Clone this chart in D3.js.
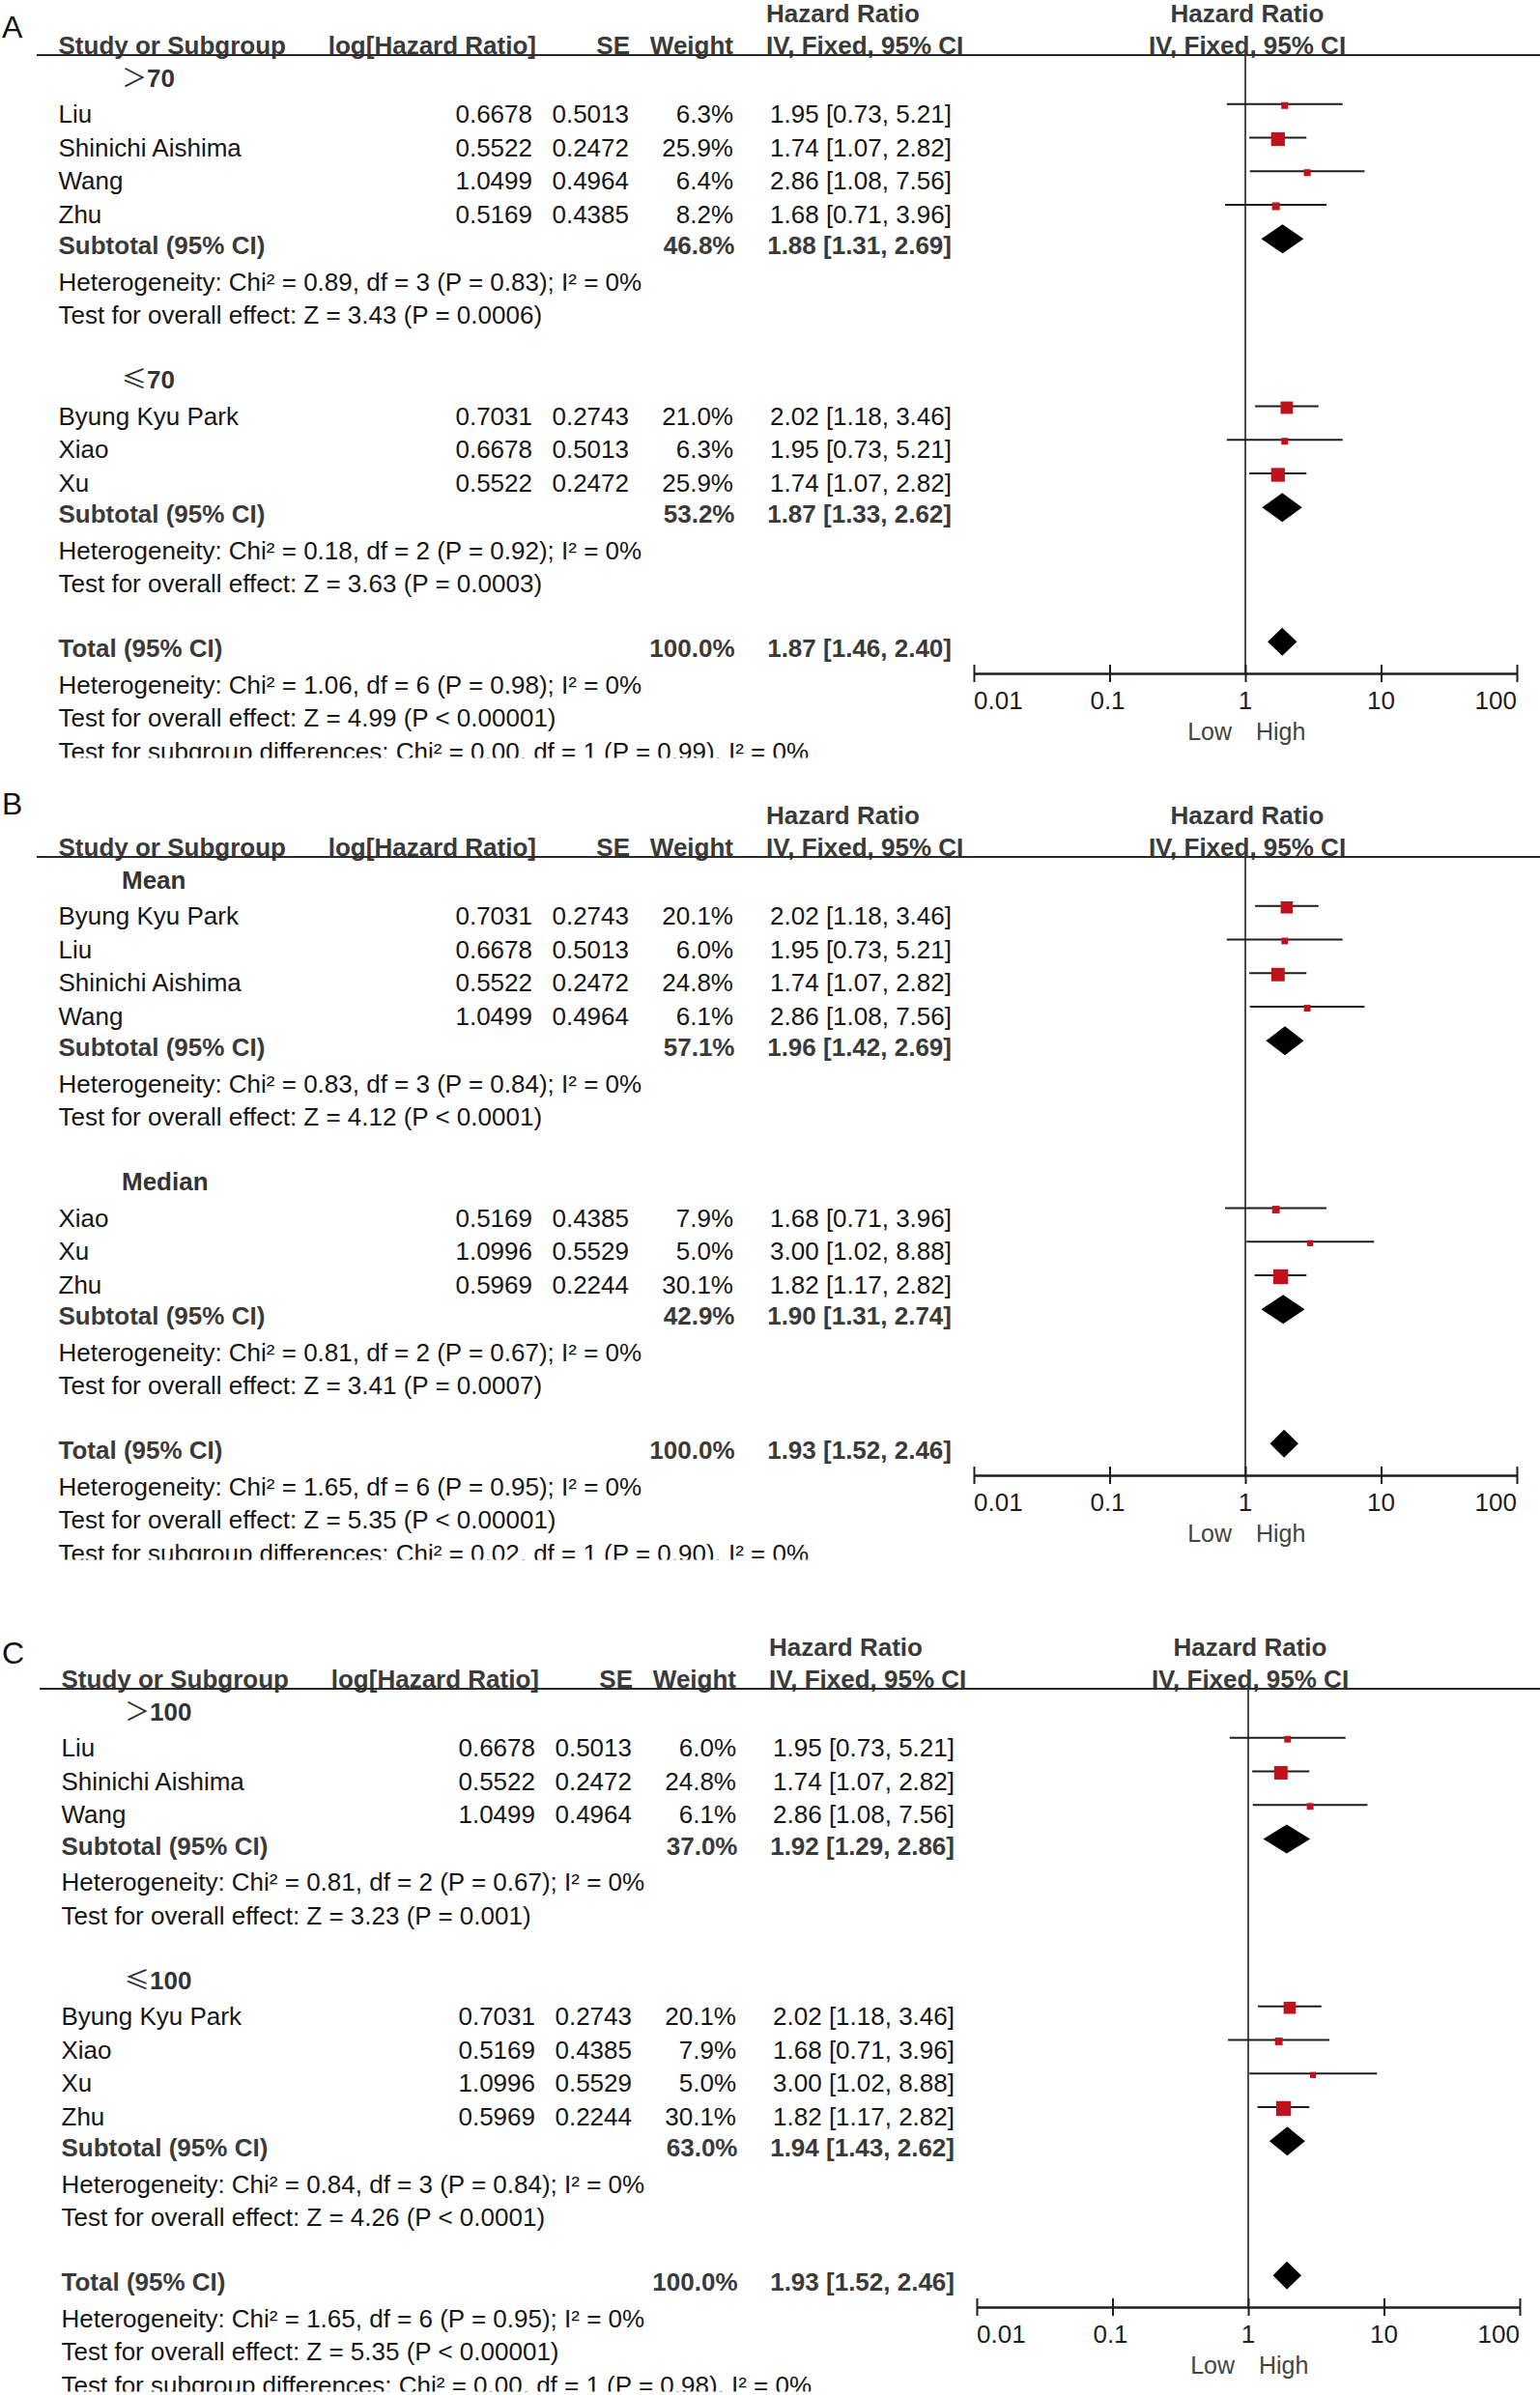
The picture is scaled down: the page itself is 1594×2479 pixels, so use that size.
<!DOCTYPE html>
<html><head><meta charset="utf-8">
<script src="https://cdn.jsdelivr.net/npm/d3@7"></script>
<style>
body{margin:0;background:#fff;}
svg{display:block;}
text{font-family:"Liberation Sans",Arial,Helvetica,sans-serif;}
</style></head><body>
<svg id="chart" width="1594" height="2479"></svg>
<script>
// ================= DATA =================
const axisTicks = [0.01, 0.1, 1, 10, 100];
const axisTickLabels = ["0.01", "0.1", "1", "10", "100"];
const favourLabels = ["Low", "High"];
const panelLetters = ["A", "B", "C"];
const headerCols = ["Study or Subgroup", "log[Hazard Ratio]", "SE", "Weight"];
const headerHR = ["Hazard Ratio", "IV, Fixed, 95% CI"];

// Panel A
const groupsA = ["＞70", "≤70"];
const studiesA = [
  {g:0, name:"Liu",              lhr:"0.6678", se:"0.5013", w:6.3,  hr:1.95, lo:0.73, hi:5.21},
  {g:0, name:"Shinichi Aishima", lhr:"0.5522", se:"0.2472", w:25.9, hr:1.74, lo:1.07, hi:2.82},
  {g:0, name:"Wang",             lhr:"1.0499", se:"0.4964", w:6.4,  hr:2.86, lo:1.08, hi:7.56},
  {g:0, name:"Zhu",              lhr:"0.5169", se:"0.4385", w:8.2,  hr:1.68, lo:0.71, hi:3.96},
  {g:1, name:"Byung Kyu Park",   lhr:"0.7031", se:"0.2743", w:21.0, hr:2.02, lo:1.18, hi:3.46},
  {g:1, name:"Xiao",             lhr:"0.6678", se:"0.5013", w:6.3,  hr:1.95, lo:0.73, hi:5.21},
  {g:1, name:"Xu",               lhr:"0.5522", se:"0.2472", w:25.9, hr:1.74, lo:1.07, hi:2.82}
];
const subtotalsA = [{w:46.8, hr:1.88, lo:1.31, hi:2.69}, {w:53.2, hr:1.87, lo:1.33, hi:2.62}];
const heterogeneityA = ["Heterogeneity: Chi² = 0.89, df = 3 (P = 0.83); I² = 0%",
                        "Heterogeneity: Chi² = 0.18, df = 2 (P = 0.92); I² = 0%"];
const overallEffectA = ["Test for overall effect: Z = 3.43 (P = 0.0006)",
                        "Test for overall effect: Z = 3.63 (P = 0.0003)"];
const totalA = {w:100.0, hr:1.87, lo:1.46, hi:2.40};
const totalNotesA = ["Heterogeneity: Chi² = 1.06, df = 6 (P = 0.98); I² = 0%",
                     "Test for overall effect: Z = 4.99 (P < 0.00001)",
                     "Test for subgroup differences: Chi² = 0.00, df = 1 (P = 0.99), I² = 0%"];

// Panel B
const groupsB = ["Mean", "Median"];
const studiesB = [
  {g:0, name:"Byung Kyu Park",   lhr:"0.7031", se:"0.2743", w:20.1, hr:2.02, lo:1.18, hi:3.46},
  {g:0, name:"Liu",              lhr:"0.6678", se:"0.5013", w:6.0,  hr:1.95, lo:0.73, hi:5.21},
  {g:0, name:"Shinichi Aishima", lhr:"0.5522", se:"0.2472", w:24.8, hr:1.74, lo:1.07, hi:2.82},
  {g:0, name:"Wang",             lhr:"1.0499", se:"0.4964", w:6.1,  hr:2.86, lo:1.08, hi:7.56},
  {g:1, name:"Xiao",             lhr:"0.5169", se:"0.4385", w:7.9,  hr:1.68, lo:0.71, hi:3.96},
  {g:1, name:"Xu",               lhr:"1.0996", se:"0.5529", w:5.0,  hr:3.00, lo:1.02, hi:8.88},
  {g:1, name:"Zhu",              lhr:"0.5969", se:"0.2244", w:30.1, hr:1.82, lo:1.17, hi:2.82}
];
const subtotalsB = [{w:57.1, hr:1.96, lo:1.42, hi:2.69}, {w:42.9, hr:1.90, lo:1.31, hi:2.74}];
const heterogeneityB = ["Heterogeneity: Chi² = 0.83, df = 3 (P = 0.84); I² = 0%",
                        "Heterogeneity: Chi² = 0.81, df = 2 (P = 0.67); I² = 0%"];
const overallEffectB = ["Test for overall effect: Z = 4.12 (P < 0.0001)",
                        "Test for overall effect: Z = 3.41 (P = 0.0007)"];
const totalB = {w:100.0, hr:1.93, lo:1.52, hi:2.46};
const totalNotesB = ["Heterogeneity: Chi² = 1.65, df = 6 (P = 0.95); I² = 0%",
                     "Test for overall effect: Z = 5.35 (P < 0.00001)",
                     "Test for subgroup differences: Chi² = 0.02, df = 1 (P = 0.90), I² = 0%"];

// Panel C
const groupsC = ["＞100", "≤100"];
const studiesC = [
  {g:0, name:"Liu",              lhr:"0.6678", se:"0.5013", w:6.0,  hr:1.95, lo:0.73, hi:5.21},
  {g:0, name:"Shinichi Aishima", lhr:"0.5522", se:"0.2472", w:24.8, hr:1.74, lo:1.07, hi:2.82},
  {g:0, name:"Wang",             lhr:"1.0499", se:"0.4964", w:6.1,  hr:2.86, lo:1.08, hi:7.56},
  {g:1, name:"Byung Kyu Park",   lhr:"0.7031", se:"0.2743", w:20.1, hr:2.02, lo:1.18, hi:3.46},
  {g:1, name:"Xiao",             lhr:"0.5169", se:"0.4385", w:7.9,  hr:1.68, lo:0.71, hi:3.96},
  {g:1, name:"Xu",               lhr:"1.0996", se:"0.5529", w:5.0,  hr:3.00, lo:1.02, hi:8.88},
  {g:1, name:"Zhu",              lhr:"0.5969", se:"0.2244", w:30.1, hr:1.82, lo:1.17, hi:2.82}
];
const subtotalsC = [{w:37.0, hr:1.92, lo:1.29, hi:2.86}, {w:63.0, hr:1.94, lo:1.43, hi:2.62}];
const heterogeneityC = ["Heterogeneity: Chi² = 0.81, df = 2 (P = 0.67); I² = 0%",
                        "Heterogeneity: Chi² = 0.84, df = 3 (P = 0.84); I² = 0%"];
const overallEffectC = ["Test for overall effect: Z = 3.23 (P = 0.001)",
                        "Test for overall effect: Z = 4.26 (P < 0.0001)"];
const totalC = {w:100.0, hr:1.93, lo:1.52, hi:2.46};
const totalNotesC = ["Heterogeneity: Chi² = 1.65, df = 6 (P = 0.95); I² = 0%",
                     "Test for overall effect: Z = 5.35 (P < 0.00001)",
                     "Test for subgroup differences: Chi² = 0.00, df = 1 (P = 0.98), I² = 0%"];

// ================= LAYOUT =================
const FS = 26;
const colX = {name:60.5, group:126, lhr:551, se:651, wt:759, hr:985, hrHead:793, plotHead:1291, lineStart:38};
const rowPitch = 34.75, row0 = 80;
const cy = k => row0 + k * rowPitch;
const headerLineY = 57, axisY = 697;
const x = d3.scaleLog().domain([0.01, 100]).range([1008, 1570]);
const side = d3.scaleSqrt().domain([0, 100]).range([0, 28]);
const fmtHR = d => `${d.hr.toFixed(2)} [${d.lo.toFixed(2)}, ${d.hi.toFixed(2)}]`;
const fmtW = w => w.toFixed(1) + "%";

const svg = d3.select("#chart");

function buildRows(groups, studies, subtotals, hets, effects, total, notes) {
  const rows = [];
  let k = 0;
  groups.forEach((lab, gi) => {
    rows.push({type:"group", k:k++, label:lab});
    studies.filter(s => s.g === gi).forEach(s => rows.push({type:"study", k:k++, d:s}));
    rows.push({type:"subtotal", k:k++, d:subtotals[gi]});
    rows.push({type:"note", k:k++, text:hets[gi]});
    rows.push({type:"note", k:k++, text:effects[gi]});
    k++;
  });
  rows.push({type:"total", k:k++, d:total});
  notes.forEach(t => rows.push({type:"note", k:k++, text:t}));
  return rows;
}

function txt(g, s, xx, yy, opts = {}) {
  return g.append("text").attr("x", xx).attr("y", yy)
    .attr("font-size", opts.size || FS)
    .attr("font-weight", opts.bold ? "bold" : "normal")
    .attr("text-anchor", opts.anchor || "start")
    .attr("fill", opts.fill || (opts.bold ? "#3a3a3a" : "#161616"))
    .text(s);
}

function drawPanel(idx, dx, dy, letterY, groups, studies, subtotals, hets, effects, total, notes) {
  const rows = buildRows(groups, studies, subtotals, hets, effects, total, notes);
  const lastK = rows[rows.length - 1].k;
  const clipId = "clip" + idx;
  svg.append("clipPath").attr("id", clipId).append("rect")
    .attr("x", -10).attr("y", -40).attr("width", 1700).attr("height", cy(lastK) + 9.5 + 40);
  const g = svg.append("g").attr("transform", `translate(${dx},${dy})`).attr("clip-path", `url(#${clipId})`);

  // headers
  txt(g, headerHR[0], colX.hrHead, 23, {bold:true});
  txt(g, headerHR[1], colX.hrHead, 56, {bold:true});
  txt(g, headerHR[0], colX.plotHead, 23, {bold:true, anchor:"middle"});
  txt(g, headerHR[1], colX.plotHead, 56, {bold:true, anchor:"middle"});
  txt(g, headerCols[0], colX.name, 56, {bold:true});
  txt(g, headerCols[1], colX.lhr + 4, 56, {bold:true, anchor:"end"});
  txt(g, headerCols[2], colX.se + 1, 56, {bold:true, anchor:"end"});
  txt(g, headerCols[3], colX.wt, 56, {bold:true, anchor:"end"});
  g.append("line").attr("x1", colX.lineStart).attr("x2", 1600 - dx)
    .attr("y1", headerLineY).attr("y2", headerLineY)
    .attr("stroke", "#2a2a2a").attr("stroke-width", 2.2);

  // null line
  g.append("line").attr("x1", x(1)).attr("x2", x(1))
    .attr("y1", headerLineY).attr("y2", axisY)
    .attr("stroke", "#2e2e2e").attr("stroke-width", 1.7);

  rows.forEach(r => {
    const c = cy(r.k);
    if (r.type === "group") {
      const t = g.append("text").attr("x", colX.group).attr("y", c + 9.5)
        .attr("font-size", FS).attr("fill", "#333");
      const first = r.label[0];
      if (first === "＞" || first === "≤") {
        t.append("tspan").attr("font-family", "'Noto Sans CJK SC', 'DejaVu Sans', sans-serif")
          .attr("font-weight", "normal").text(first);
        t.append("tspan").attr("font-weight", "bold").text(r.label.slice(1));
      } else {
        t.attr("font-weight", "bold").text(r.label);
      }
    } else if (r.type === "study") {
      const d = r.d, b = c + 12;
      txt(g, d.name, colX.name, b);
      txt(g, d.lhr, colX.lhr, b, {anchor:"end"});
      txt(g, d.se, colX.se, b, {anchor:"end"});
      txt(g, fmtW(d.w), colX.wt, b, {anchor:"end"});
      txt(g, fmtHR(d), colX.hr, b, {anchor:"end"});
      const ly = b - 19;
      g.append("line").attr("x1", x(d.lo)).attr("x2", x(d.hi)).attr("y1", ly).attr("y2", ly)
        .attr("stroke", "#1e1e1e").attr("stroke-width", 1.8);
      const s = side(d.w);
      g.append("rect").attr("x", x(d.hr) - s / 2).attr("y", ly + 1.5 - s / 2)
        .attr("width", s).attr("height", s).attr("fill", "#bf121d");
    } else if (r.type === "subtotal" || r.type === "total") {
      const d = r.d, b = c + 9.5;
      txt(g, r.type === "subtotal" ? "Subtotal (95% CI)" : "Total (95% CI)", colX.name, b, {bold:true});
      txt(g, fmtW(d.w), colX.wt + 1.5, b, {bold:true, anchor:"end"});
      txt(g, fmtHR(d), colX.hr, b, {bold:true, anchor:"end"});
      const my = b - 16, h = r.type === "subtotal" ? 15 : 14.5;
      g.append("path")
        .attr("d", `M${x(d.lo)},${my} L${x(d.hr)},${my - h} L${x(d.hi)},${my} L${x(d.hr)},${my + h} Z`)
        .attr("fill", "#000");
    } else if (r.type === "note") {
      txt(g, r.text, colX.name, c + 12);
    }
  });

  // axis
  const axis = d3.axisBottom(x).tickValues(axisTicks).tickSize(0).tickFormat("");
  const ag = g.append("g").attr("transform", `translate(0,${axisY})`).call(axis);
  ag.select(".domain").attr("stroke", "#1e1e1e").attr("stroke-width", 2.5);
  ag.selectAll(".tick").append("line").attr("y1", -9).attr("y2", 9)
    .attr("stroke", "#1e1e1e").attr("stroke-width", 2);
  axisTicks.forEach((t, i) => {
    const anchor = i === 0 ? "start" : (i === axisTicks.length - 1 ? "end" : "middle");
    txt(g, axisTickLabels[i], x(t) + (i === 1 ? -2 : 0), 734, {anchor, fill:"#1e1e1e"});
  });
  txt(g, favourLabels[0], x(1) - 14, 766, {anchor:"end", fill:"#444", size:25});
  txt(g, favourLabels[1], x(1) + 11, 766, {anchor:"start", fill:"#444", size:25});

  // panel letter
  svg.append("text").attr("x", 2).attr("y", letterY)
    .attr("font-family", "'Noto Sans CJK SC', 'Noto Sans', sans-serif")
    .attr("font-weight", 300).attr("font-size", 32).attr("fill", "#111")
    .text(panelLetters[idx]);
}

drawPanel(0, 0, 0, 39, groupsA, studiesA, subtotalsA, heterogeneityA, overallEffectA, totalA, totalNotesA);
drawPanel(1, 0, 830, 843, groupsB, studiesB, subtotalsB, heterogeneityB, overallEffectB, totalB, totalNotesB);
drawPanel(2, 3, 1691, 1722, groupsC, studiesC, subtotalsC, heterogeneityC, overallEffectC, totalC, totalNotesC);
</script>
</body></html>
